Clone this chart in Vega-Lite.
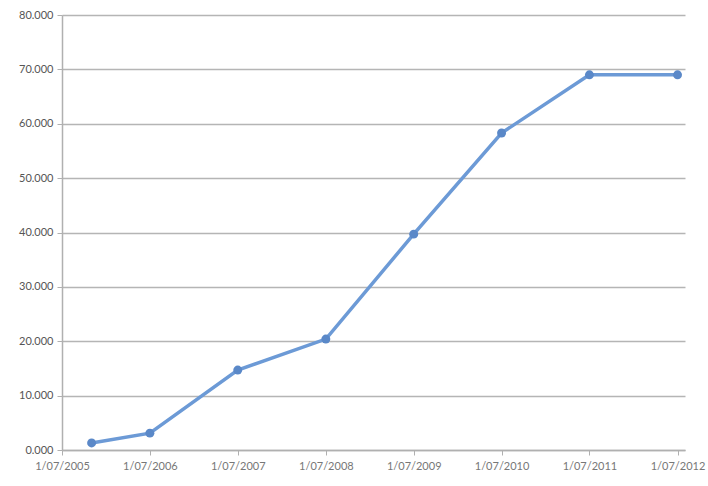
{
  "$schema": "https://vega.github.io/schema/vega-lite/v6.json",
  "width": 623,
  "height": 435,
  "autosize": {"type": "none"},
  "padding": {"left": 62, "top": 15, "right": 23, "bottom": 36},
  "background": "white",
  "config": {
    "view": {"stroke": null},
    "axis": {"labelFont": "Lato", "labelFontSize": 11}
  },
  "data": {
    "values": [
      {"date": "2005-11-01T00:00", "value": 1.3},
      {"date": "2006-07-01T00:00", "value": 3.1},
      {"date": "2007-07-01T00:00", "value": 14.7},
      {"date": "2008-07-01T00:00", "value": 20.4},
      {"date": "2009-07-01T00:00", "value": 39.7},
      {"date": "2010-07-01T00:00", "value": 58.3},
      {"date": "2011-07-01T00:00", "value": 69.0},
      {"date": "2012-07-01T00:00", "value": 69.0}
    ]
  },
  "encoding": {
    "x": {
      "field": "date",
      "type": "temporal",
      "scale": {"domain": [{"year": 2005, "month": 7, "date": 1}, {"year": 2012, "month": 8, "date": 1}]},
      "axis": {
        "title": null,
        "values": [
          {"year": 2005, "month": 7, "date": 1},
          {"year": 2006, "month": 7, "date": 1},
          {"year": 2007, "month": 7, "date": 1},
          {"year": 2008, "month": 7, "date": 1},
          {"year": 2009, "month": 7, "date": 1},
          {"year": 2010, "month": 7, "date": 1},
          {"year": 2011, "month": 7, "date": 1},
          {"year": 2012, "month": 7, "date": 1}
        ],
        "format": "%-d/%m/%Y",
        "grid": false,
        "domainColor": "#b0b0b0",
        "domainWidth": 1.5,
        "tickColor": "#b0b0b0",
        "tickSize": 5,
        "labelPadding": 5,
        "labelColor": "#777777",
        "labelOverlap": false,
        "labelFlush": false
      }
    },
    "y": {
      "field": "value",
      "type": "quantitative",
      "scale": {"domain": [0, 80]},
      "axis": {
        "title": null,
        "values": [0, 10, 20, 30, 40, 50, 60, 70, 80],
        "format": ".3f",
        "grid": true,
        "gridColor": "#b5b5b5",
        "gridWidth": 1.5,
        "domainColor": "#b0b0b0",
        "domainWidth": 1.5,
        "tickColor": "#b0b0b0",
        "tickSize": 5,
        "labelPadding": 4,
        "labelColor": "#555555"
      }
    }
  },
  "layer": [
    {"mark": {"type": "line", "color": "#6c9ad6", "strokeWidth": 3.5}},
    {"mark": {"type": "point", "filled": true, "color": "#5a88c8", "size": 80, "opacity": 1}}
  ]
}
